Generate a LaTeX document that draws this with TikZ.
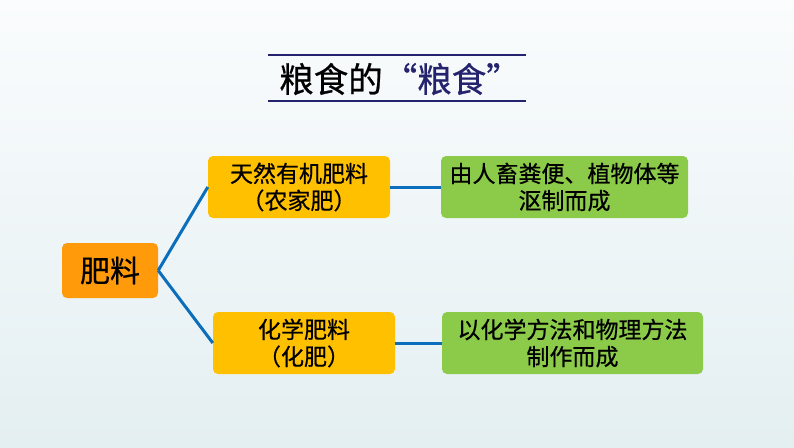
\documentclass[tikz,border=0pt]{standalone}
\usepackage{fontspec}
\newfontfamily\cjk[FakeBold=0.6]{Noto Sans CJK SC}
\definecolor{bgtop}{HTML}{FAFCFD}
\definecolor{bgbot}{HTML}{E4EFF2}
\definecolor{navy}{HTML}{25236E}
\definecolor{orangebox}{HTML}{FF9B0A}
\definecolor{goldbox}{HTML}{FFC000}
\definecolor{greenbox}{HTML}{8CCB4A}
\definecolor{linkblue}{HTML}{0A6EBD}
\begin{document}
\begin{tikzpicture}[x=1pt,y=-1pt,
  box/.style={rounded corners=5pt, inner sep=0pt, align=center, font=\cjk\fontsize{23}{27}\selectfont},
  link/.style={draw=linkblue, line width=3pt}]
\useasboundingbox (0,0) rectangle (794,447);
\shade[top color=bgtop, bottom color=bgbot] (0,0) rectangle (794,447);
% title
\draw[navy, line width=1.2pt] (268,55) -- (526,55);
\draw[navy, line width=1.2pt] (268,101) -- (526,101);
\node[font=\cjk\fontsize{34.5}{40}\selectfont, inner sep=0pt] (title) at (400,79) {粮食的\textcolor{navy}{“粮食”}};
% boxes
\node[box, fill=orangebox, minimum width=96pt, minimum height=55pt, font=\cjk\fontsize{30}{34}\selectfont] (root) at (110,270.5) {肥料};
\node[box, fill=goldbox, minimum width=182pt, minimum height=62pt] (nat) at (299,187) {天然有机肥料\\（农家肥）};
\node[box, fill=goldbox, minimum width=182pt, minimum height=62pt] (chem) at (304,343) {化学肥料\\（化肥）};
\node[box, fill=greenbox, minimum width=247pt, minimum height=62pt] (natd) at (564.5,187) {由人畜粪便、植物体等\\沤制而成};
\node[box, fill=greenbox, minimum width=261pt, minimum height=62pt] (chemd) at (572.5,343) {以化学方法和物理方法\\制作而成};
% connectors
\path[link] (root.east) -- (nat.west);
\path[link] (root.east) -- (chem.west);
\path[link] (nat.east) -- (natd.west);
\path[link] (chem.east) -- (chemd.west);
\end{tikzpicture}
\end{document}
